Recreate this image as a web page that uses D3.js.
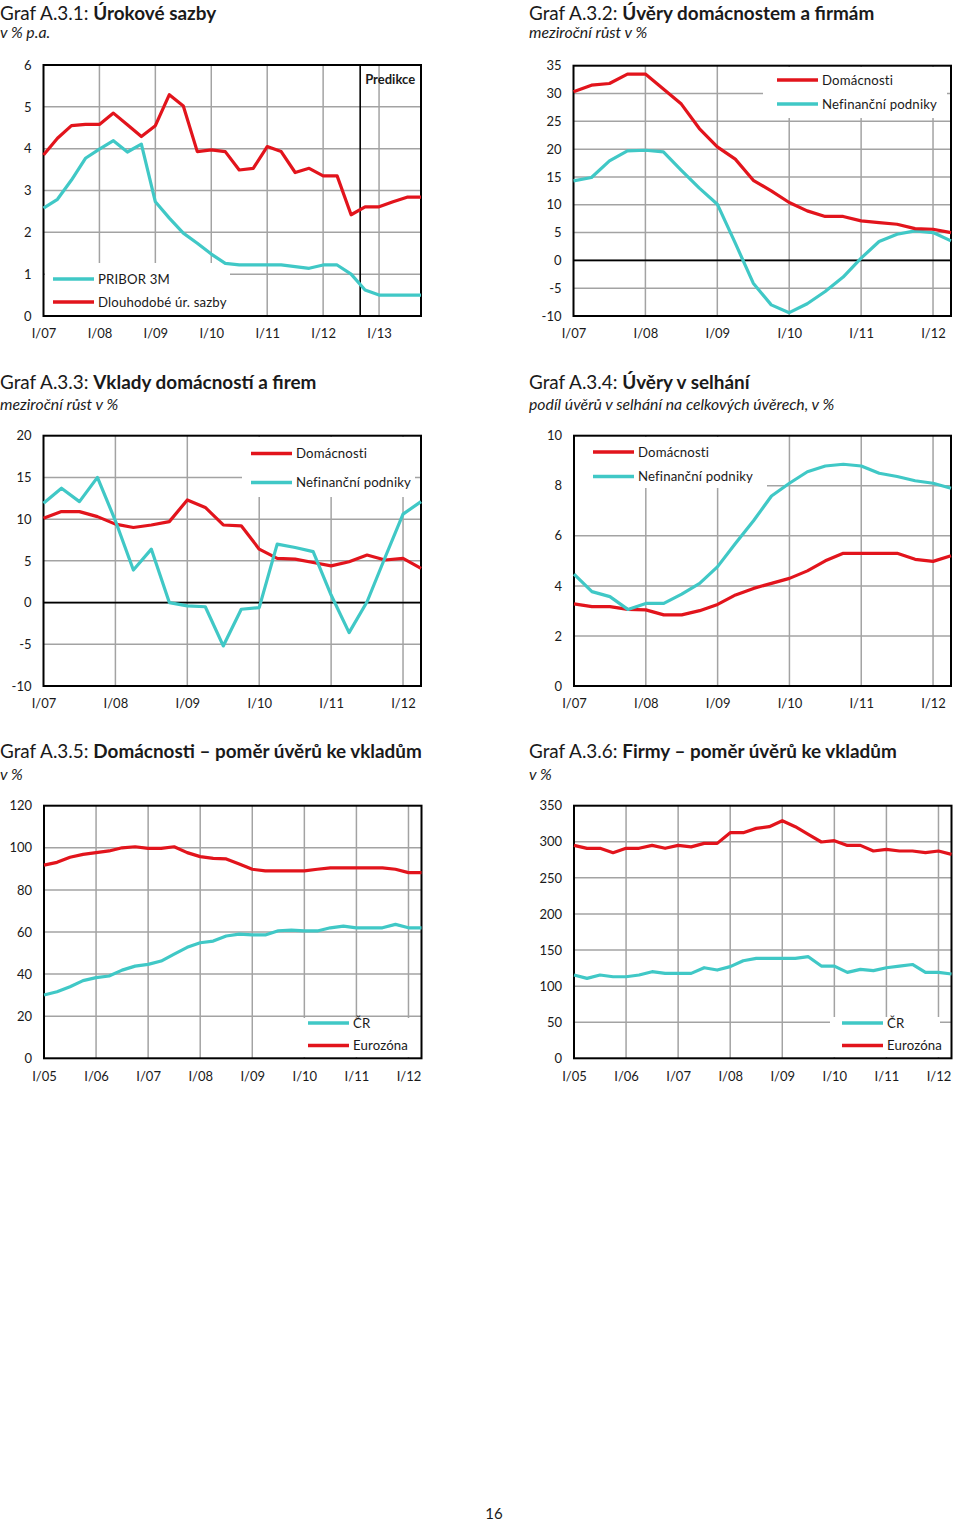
<!DOCTYPE html>
<html><head><meta charset="utf-8">
<script src="https://cdn.jsdelivr.net/npm/d3@7"></script>
<style>
body{margin:0;background:#fff}
svg{display:block}
text{font-family:Lato,"Open Sans",sans-serif;fill:#1a1a1a}
</style>
</head><body>
<svg id="c" width="960" height="1523"></svg>
<script>
// ---------- DATA ----------
const c1XLabels = ["I/07","I/08","I/09","I/10","I/11","I/12","I/13"];
const c1YTicks = [0,1,2,3,4,5,6];
const c1Pribor = [2.58,2.79,3.25,3.77,3.99,4.19,3.92,4.11,2.73,2.34,1.98,1.74,1.48,1.26,1.22,1.22,1.22,1.22,1.18,1.14,1.22,1.22,1.0,0.62,0.5,0.5,0.5,0.5];
const c1Dlouhodobe = [3.85,4.25,4.55,4.58,4.58,4.85,4.57,4.29,4.55,5.29,5.02,3.93,3.97,3.93,3.49,3.53,4.05,3.93,3.43,3.53,3.35,3.35,2.42,2.61,2.61,2.73,2.84,2.84];
const c1PredikceAt = 22.65;

const c2XLabels = ["I/07","I/08","I/09","I/10","I/11","I/12"];
const c2YTicks = [-10,-5,0,5,10,15,20,25,30,35];
const c2Domacnosti = [30.3,31.5,31.8,33.5,33.5,30.8,28.1,23.7,20.4,18.2,14.4,12.5,10.4,8.9,7.9,7.9,7.1,6.8,6.5,5.7,5.6,5.0];
const c2Podniky = [14.3,14.9,17.9,19.7,19.8,19.5,16.2,13.0,10.1,3.1,-4.1,-8.0,-9.4,-7.8,-5.6,-3.0,0.4,3.4,4.7,5.3,5.0,3.5];

const c3XLabels = ["I/07","I/08","I/09","I/10","I/11","I/12"];
const c3YTicks = [-10,-5,0,5,10,15,20];
const c3Domacnosti = [10.1,10.9,10.9,10.3,9.4,9.0,9.3,9.7,12.3,11.4,9.3,9.2,6.4,5.3,5.2,4.8,4.4,4.9,5.7,5.1,5.3,4.1];
const c3Podniky = [11.9,13.7,12.1,15.0,9.8,3.9,6.4,0.0,-0.4,-0.5,-5.2,-0.8,-0.6,7.0,6.6,6.1,0.9,-3.6,0.1,5.4,10.6,12.1];

const c4XLabels = ["I/07","I/08","I/09","I/10","I/11","I/12"];
const c4YTicks = [0,2,4,6,8,10];
const c4Domacnosti = [3.28,3.17,3.17,3.06,3.04,2.84,2.84,3.01,3.26,3.64,3.9,4.1,4.3,4.6,5.0,5.3,5.3,5.3,5.3,5.06,4.98,5.2];
const c4Podniky = [4.47,3.77,3.57,3.06,3.3,3.3,3.67,4.1,4.77,5.7,6.6,7.59,8.1,8.56,8.79,8.86,8.79,8.5,8.37,8.2,8.1,7.9];

const c5XLabels = ["I/05","I/06","I/07","I/08","I/09","I/10","I/11","I/12"];
const c5YTicks = [0,20,40,60,80,100,120];
const c5CR = [30.1,31.6,34.0,36.9,38.3,39.1,41.9,43.8,44.6,46.2,49.5,52.7,54.9,55.7,58.1,59.0,58.6,58.6,60.6,60.9,60.5,60.5,62.0,62.8,62.0,62.0,62.0,63.6,62.0,62.0];
const c5Eurozona = [91.8,93.1,95.5,96.9,97.7,98.5,100.0,100.5,99.7,99.7,100.5,97.7,95.8,95.0,94.7,92.3,89.8,89.0,89.0,89.0,89.0,89.8,90.5,90.5,90.5,90.5,90.5,89.8,88.2,88.2];

const c6XLabels = ["I/05","I/06","I/07","I/08","I/09","I/10","I/11","I/12"];
const c6YTicks = [0,50,100,150,200,250,300,350];
const c6CR = [115.4,110.7,115.4,113,113,115.4,120,117.7,117.7,117.7,125.5,122.3,127,135.2,138.5,138.5,138.5,138.5,140.8,127.8,127.8,119,123.2,121.4,125.5,127.8,130,119,119,116.8];
const c6Eurozona = [295,290.9,290.9,284.9,290.9,291,295,291,295,293,297.8,297.8,312.6,312.6,318.6,320.9,329.2,320.9,310.3,299.7,301.5,295,295,287.2,289.5,287.2,287.2,284.9,287.2,282.6];

// ---------- STYLE ----------
const RED = "#e2141c", CYAN = "#40c8c6", GRID = "#a3a3a3";
const svg = d3.select("#c");

function title(x, y, plain, bold, sub, subY){
  const t = svg.append("text").attr("x", x).attr("y", y).attr("font-size", 18.9);
  t.append("tspan").text(plain);
  t.append("tspan").attr("font-weight", 700).text(bold);
  svg.append("text").attr("x", x).attr("y", subY).attr("font-size", 15.8)
     .attr("font-style", "italic").text(sub);
}

function chart(o){
  const g = svg.append("g");
  const n = o.series[0].values.length;
  const x = d3.scaleLinear().domain([0, n - 1]).range([o.left, o.right]);
  const y = d3.scaleLinear().domain(o.yDomain).range([o.bottom, o.top]);
  const xTickIdx = o.xLabels.map((d, i) => i * 4);

  // horizontal grid
  g.append("g").selectAll("line").data(o.yTicks.filter(v => v !== o.yDomain[0] && v !== o.yDomain[1]))
    .join("line").attr("x1", o.left).attr("x2", o.right)
    .attr("y1", d => y(d)).attr("y2", d => y(d))
    .attr("stroke", GRID).attr("stroke-width", 1.5);
  // vertical grid
  g.append("g").selectAll("line").data(xTickIdx.filter(v => v > 0 && v < n - 1))
    .join("line").attr("y1", o.top).attr("y2", o.bottom)
    .attr("x1", d => x(d)).attr("x2", d => x(d))
    .attr("stroke", GRID).attr("stroke-width", 1.5);

  // legend box
  if (o.legendBox) {
    const b = o.legendBox;
    g.append("rect").attr("x", b[0]).attr("y", b[1]).attr("width", b[2] - b[0]).attr("height", b[3] - b[1]).attr("fill", "#fff");
  }

  // y axis labels
  const ya = d3.axisLeft(y).tickValues(o.yTicks).tickSize(0).tickPadding(12).tickFormat(d => String(d));
  const yg = g.append("g").attr("transform", `translate(${o.left},0)`).call(ya);
  yg.select(".domain").remove();
  yg.selectAll("text").attr("font-size", 13).attr("font-family", "Lato,sans-serif").attr("fill", "#1a1a1a");
  // x axis labels
  const xa = d3.axisBottom(x).tickValues(xTickIdx).tickSize(0).tickPadding(13).tickFormat((d, i) => o.xLabels[i]);
  const xg = g.append("g").attr("transform", `translate(0,${o.bottom})`).call(xa);
  xg.select(".domain").remove();
  xg.selectAll("text").attr("font-size", 13).attr("font-family", "Lato,sans-serif").attr("fill", "#1a1a1a");

  // zero line
  if (o.yDomain[0] < 0) {
    g.append("line").attr("x1", o.left).attr("x2", o.right).attr("y1", y(0)).attr("y2", y(0))
      .attr("stroke", "#000").attr("stroke-width", 1.8);
  }
  // predikce line
  if (o.predikce !== undefined) {
    g.append("line").attr("x1", x(o.predikce)).attr("x2", x(o.predikce)).attr("y1", o.top).attr("y2", o.bottom)
      .attr("stroke", "#000").attr("stroke-width", 1.6);
    g.append("text").attr("x", x(o.predikce) + 5).attr("y", o.top + 19).attr("font-size", 13)
      .attr("font-weight", 700).text("Predikce");
  }
  // border
  g.append("rect").attr("x", o.left).attr("y", o.top).attr("width", o.right - o.left).attr("height", o.bottom - o.top)
    .attr("fill", "none").attr("stroke", "#000").attr("stroke-width", 2);

  // series
  const line = d3.line().x((d, i) => x(i)).y(d => y(d));
  o.series.forEach(s => {
    g.append("path").datum(s.values).attr("d", line).attr("fill", "none")
      .attr("stroke", s.color).attr("stroke-width", 3.2).attr("stroke-linejoin", "round");
  });
  // legend
  o.legend.forEach((l, i) => {
    const ly = o.legendPos[1] + i * o.legendStep;
    g.append("line").attr("x1", o.legendPos[0]).attr("x2", o.legendPos[0] + 41).attr("y1", ly).attr("y2", ly)
      .attr("stroke", l.color).attr("stroke-width", 3.4);
    g.append("text").attr("x", o.legendPos[0] + 45).attr("y", ly).attr("dy", "0.35em")
      .attr("font-size", 13.2).attr("letter-spacing", 0.15).text(l.name);
  });
}

// ---------- CHARTS ----------
title(0, 20, "Graf A.3.1: ", "Úrokové sazby", "v % p.a.", 38);
chart({left: 43.5, right: 421, top: 65, bottom: 316, yDomain: [0, 6], yTicks: c1YTicks, xLabels: c1XLabels,
  series: [{values: c1Dlouhodobe, color: RED}, {values: c1Pribor, color: CYAN}],
  predikce: c1PredikceAt, legendBox: [45, 263, 230, 315],
  legend: [{name: "PRIBOR 3M", color: CYAN}, {name: "Dlouhodobé úr. sazby", color: RED}],
  legendPos: [53, 279], legendStep: 23});

title(529, 20, "Graf A.3.2: ", "Úvěry domácnostem a firmám", "meziroční růst v %", 38);
chart({left: 573.5, right: 951, top: 65.7, bottom: 316, yDomain: [-10, 35], yTicks: c2YTicks, xLabels: c2XLabels,
  series: [{values: c2Podniky, color: CYAN}, {values: c2Domacnosti, color: RED}],
  legendBox: [763, 67, 947, 118],
  legend: [{name: "Domácnosti", color: RED}, {name: "Nefinanční podniky", color: CYAN}],
  legendPos: [777, 80], legendStep: 24});

title(0, 389, "Graf A.3.3: ", "Vklady domácností a firem", "meziroční růst v %", 410);
chart({left: 43.5, right: 421, top: 435.7, bottom: 686, yDomain: [-10, 20], yTicks: c3YTicks, xLabels: c3XLabels,
  series: [{values: c3Domacnosti, color: RED}, {values: c3Podniky, color: CYAN}],
  legendBox: [242, 437, 415, 497],
  legend: [{name: "Domácnosti", color: RED}, {name: "Nefinanční podniky", color: CYAN}],
  legendPos: [251, 453.5], legendStep: 29});

title(529, 389, "Graf A.3.4: ", "Úvěry v selhání", "podíl úvěrů v selhání na celkových úvěrech, v %", 410);
chart({left: 574, right: 951, top: 435.7, bottom: 686, yDomain: [0, 10], yTicks: c4YTicks, xLabels: c4XLabels,
  series: [{values: c4Domacnosti, color: RED}, {values: c4Podniky, color: CYAN}],
  legendBox: [575, 437, 767, 488],
  legend: [{name: "Domácnosti", color: RED}, {name: "Nefinanční podniky", color: CYAN}],
  legendPos: [593, 452], legendStep: 24.5});

title(0, 758, "Graf A.3.5: ", "Domácnosti – poměr úvěrů ke vkladům", "v %", 780);
chart({left: 44, right: 421.5, top: 805.7, bottom: 1058.3, yDomain: [0, 120], yTicks: c5YTicks, xLabels: c5XLabels,
  series: [{values: c5Eurozona, color: RED}, {values: c5CR, color: CYAN}],
  legendBox: [300, 1018, 419, 1057],
  legend: [{name: "ČR", color: CYAN}, {name: "Eurozóna", color: RED}],
  legendPos: [308, 1023], legendStep: 22.5});

title(529, 758, "Graf A.3.6: ", "Firmy – poměr úvěrů ke vkladům", "v %", 780);
chart({left: 574, right: 951.5, top: 805.7, bottom: 1058.3, yDomain: [0, 350], yTicks: c6YTicks, xLabels: c6XLabels,
  series: [{values: c6Eurozona, color: RED}, {values: c6CR, color: CYAN}],
  legendBox: [830, 1017, 940, 1057],
  legend: [{name: "ČR", color: CYAN}, {name: "Eurozóna", color: RED}],
  legendPos: [842, 1023], legendStep: 22.5});

svg.append("text").attr("x", 494).attr("y", 1519).attr("text-anchor", "middle").attr("font-size", 15).text("16");
</script>
</body></html>
